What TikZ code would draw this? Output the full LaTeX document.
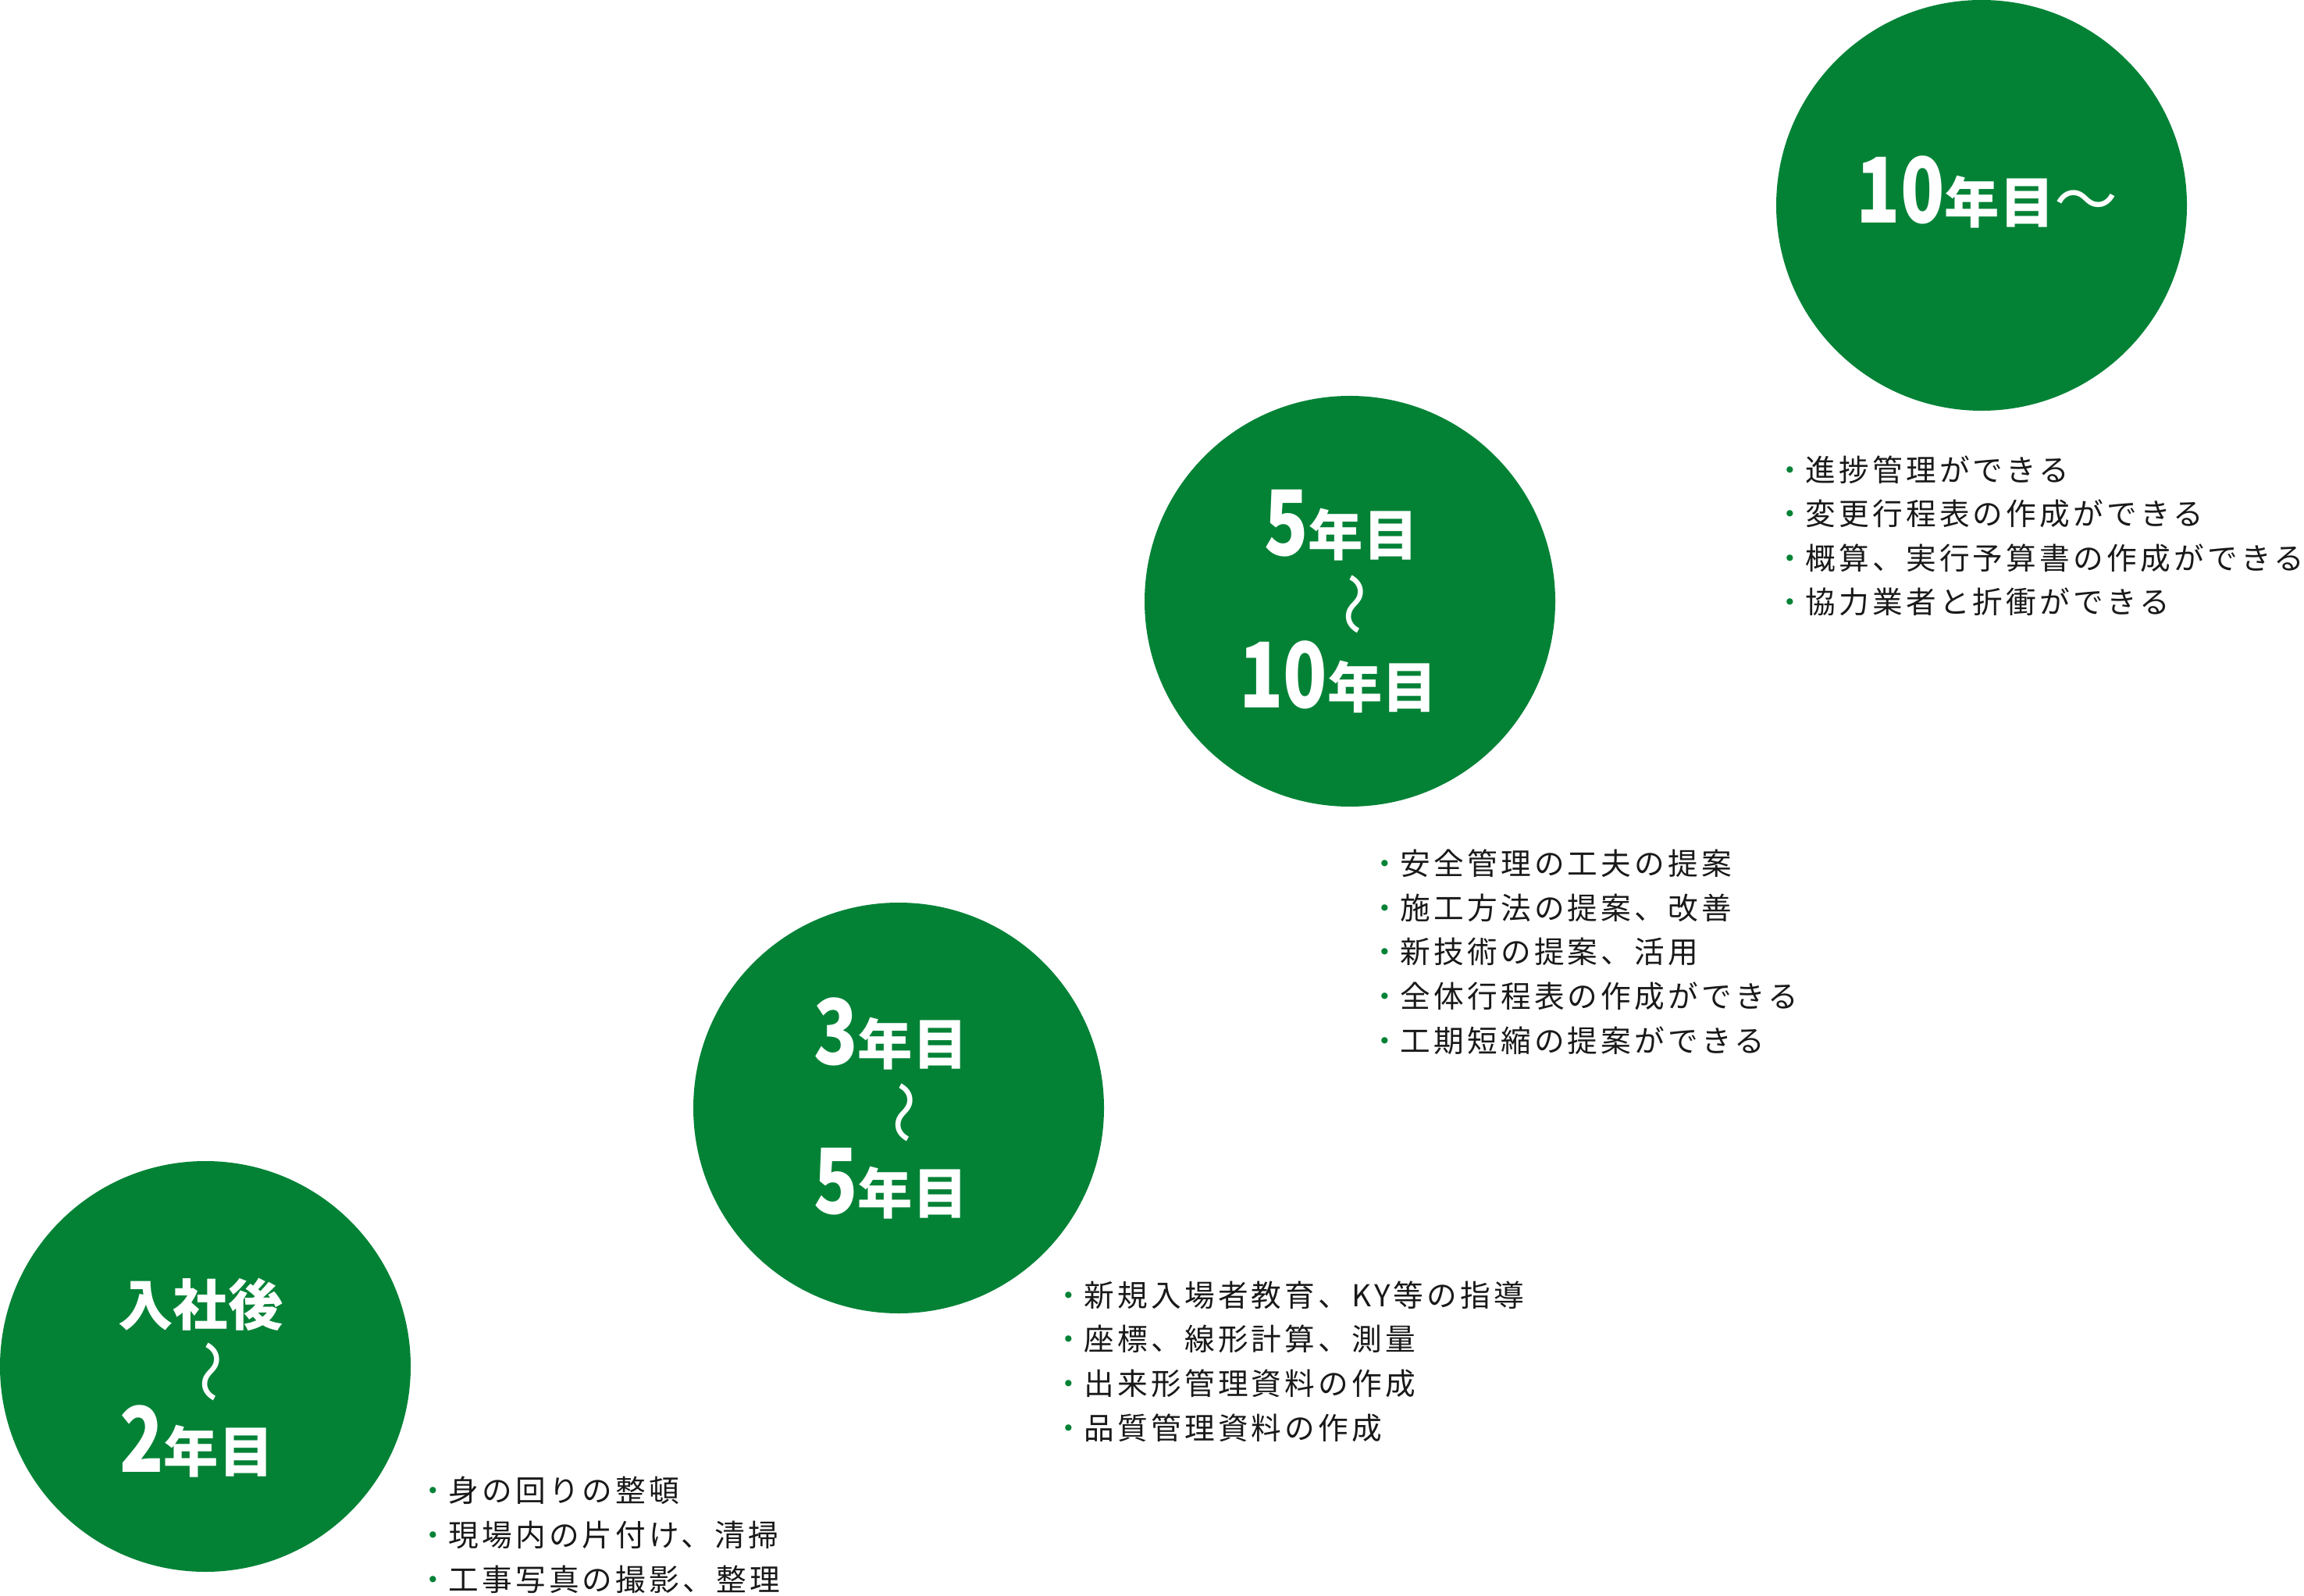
\documentclass[tikz,border=0pt]{standalone}
\usepackage{fontspec}
\usepackage{graphicx}
\setmainfont{Noto Sans CJK JP}
\newfontfamily\listfamily{Noto Sans CJK JP}[LetterSpace=11]
\definecolor{ptgreen}{RGB}{3,130,54}
\definecolor{ptink}{RGB}{25,25,25}
\newcommand{\listfont}{\listfamily\fontsize{11}{16.08}\selectfont}
\newcommand{\yearfont}{\bfseries\fontsize{20}{24}\selectfont}
\newcommand{\wavefont}{\fontsize{23}{24}\selectfont}
\newcommand{\yr}[1]{{\fontsize{33}{33}\selectfont\scalebox{0.8}[1]{#1}}}
\newcommand{\pt}{\textcolor{ptgreen}{・}}

\begin{document}
\begin{tikzpicture}[scale=1,
	yearball/.style={circle, fill=ptgreen, minimum size=5.26cm, inner sep=0pt},
	yeartext/.style={text=white, font=\yearfont, anchor=base, inner sep=0pt},
	yearwave/.style={text=white, font=\wavefont, rotate=-90, inner sep=0pt},
	tasklist/.style={text=ptink, font=\listfont, align=left, anchor=base west, inner sep=0pt}]
			
			\useasboundingbox (0,0) rectangle (29.51,20.43);
			
			% circles
			\node[yearball] (ball1) at (2.63,2.93) {};
			\node[yearball] (ball2) at (11.51,6.24) {};
			\node[yearball] (ball3) at (17.29,12.73) {};
			\node[yearball] (ball4) at (25.38,17.80) {};
			
			\node[yeartext] (from1) at (2.57,3.46) {入社後};
			\node[yearwave] (wave1) at (2.60,2.86) {〜};
			\node[yeartext] (to1) at (2.52,1.58) {\yr{2}年目};
			
			\node[yeartext] (from2) at (11.41,6.80) {\yr{3}年目};
			\node[yearwave] (wave2) at (11.48,6.18) {〜};
			\node[yeartext] (to2) at (11.41,4.89) {\yr{5}年目};
			
			\node[yeartext] (from3) at (17.18,13.31) {\yr{5}年目};
			\node[yearwave] (wave3) at (17.25,12.69) {〜};
			\node[yeartext] (to3) at (17.14,11.36) {\yr{10}年目};
			
			\node[yeartext] (from4) at (25.45,17.57) {\yr{10}年目{\mdseries\wavefont 〜}};
			
			% what is done in each period (anchored at the last line)
			\node[tasklist] (tasks1) at (5.35,0.06) {\pt 身の回りの整頓\\ \pt 現場内の片付け、清掃\\ \pt 工事写真の撮影、整理};
			\node[tasklist] (tasks2) at (13.49,2.00) {\pt 新規入場者教育、KY等の指導\\ \pt 座標、線形計算、測量\\ \pt 出来形管理資料の作成\\ \pt 品質管理資料の作成};
			\node[tasklist] (tasks3) at (17.54,6.96) {\pt 安全管理の工夫の提案\\ \pt 施工方法の提案、改善\\ \pt 新技術の提案、活用\\ \pt 全体行程表の作成ができる\\ \pt 工期短縮の提案ができる};
			\node[tasklist] (tasks4) at (22.73,12.57) {\pt 進捗管理ができる\\ \pt 変更行程表の作成ができる\\ \pt 概算、実行予算書の作成ができる\\ \pt 協力業者と折衝ができる};
		\end{tikzpicture}
\end{document}
